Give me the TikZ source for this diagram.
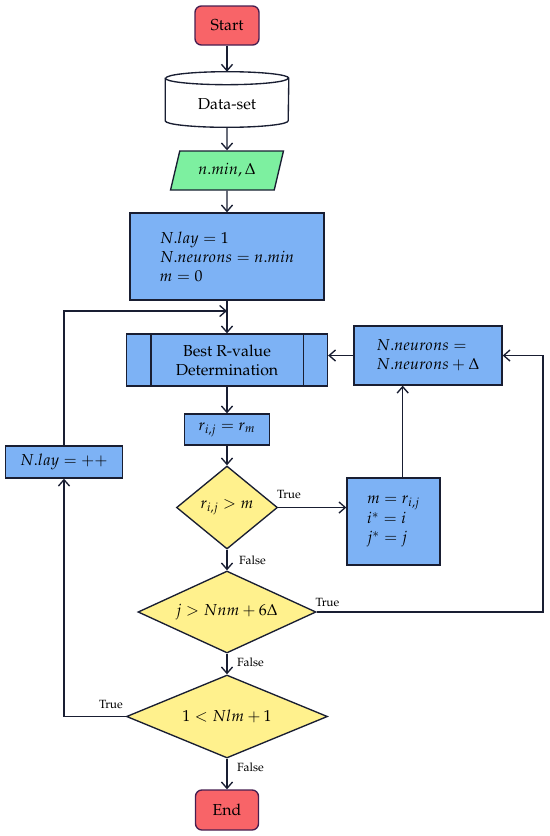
\documentclass[tikz,border=0pt]{standalone}
\usepackage[T1]{fontenc}
\usepackage{mathpazo}
\usetikzlibrary{shapes.geometric,arrows.meta,calc}
\definecolor{cred}{RGB}{248,100,104}
\definecolor{cpur}{RGB}{70,30,80}
\definecolor{cgreen}{RGB}{125,240,160}
\definecolor{cblue}{RGB}{125,178,245}
\definecolor{cyel}{RGB}{255,241,141}
\definecolor{cline}{RGB}{25,30,50}
\newcommand\px{0.63pt}
\begin{document}
\begin{tikzpicture}[x=0.63pt,y=-0.63pt,
  every node/.style={inner sep=1pt},
  term/.style={rectangle, rounded corners=4pt, draw=cpur, fill=cred, line width=0.85pt},
  box/.style={rectangle, draw=cline, fill=cblue, line width=0.85pt, align=left},
  dec/.style={diamond, draw=cline, fill=cyel, line width=0.85pt, inner sep=0pt},
  arr/.style={line width=0.85pt, draw=cline, -{Straight Barb[length=4pt,width=7pt]}},
  ln/.style={line width=0.85pt, draw=cline},
  lab/.style={font=\fontsize{7.5}{9}\selectfont, inner sep=0pt}
]
\useasboundingbox (0,0) rectangle (550,836);

% nodes
\node[term, minimum width=64*\px, minimum height=39*\px] (start) at (227,25.5) {Start};
\node[minimum width=123*\px, minimum height=55*\px, inner sep=0pt] (data) at (227,99.5) {};
\filldraw[ln, fill=white]
  ([yshift=-6.5*\px]data.north west) -- ([yshift=6.5*\px]data.south west)
  arc[start angle=180, end angle=360, x radius=61.5*\px, y radius=6.5*\px]
  -- ([yshift=-6.5*\px]data.north east)
  arc[start angle=0, end angle=180, x radius=61.5*\px, y radius=6.5*\px] -- cycle;
\draw[ln] ([yshift=-6.5*\px]data.north west)
  arc[start angle=180, end angle=360, x radius=61.5*\px, y radius=6.5*\px];
\node (datatext) at (227,104) {Data-set};

\node[trapezium, trapezium left angle=67.7, trapezium right angle=112.3,
  trapezium stretches=true, draw=cline, fill=cgreen, line width=0.85pt,
  minimum width=113*\px, minimum height=39*\px, inner sep=0pt] (inp) at (227,170.5) {$n.min, \Delta$};

\node[box, minimum width=194*\px, minimum height=87*\px] (init) at (227,256.5)
  {$N.lay = 1$\\$N.neurons = n.min$\\$m = 0$};

\node[box, align=center, minimum width=201*\px, minimum height=52*\px] (best) at (227,360)
  {Best R-value\\Determination};
\draw[ln] ([xshift=25*\px]best.north west) -- ([xshift=25*\px]best.south west);
\draw[ln] ([xshift=-25*\px]best.north east) -- ([xshift=-25*\px]best.south east);

\node[box, minimum width=148*\px, minimum height=59*\px] (neur) at (428,355.5)
  {$N.neurons =$\\$N.neurons + \Delta$};

\node[box, minimum width=85*\px, minimum height=31*\px] (rbox) at (227,429.5) {$r_{i,j} = r_m$};

\node[box, minimum width=117*\px, minimum height=32*\px] (lay) at (64,462) {$N.lay = {+}{+}$};

\node[dec, aspect=1.22, minimum width=101*\px, minimum height=83*\px] (d1) at (227,507.5) {$r_{i,j} > m$};

\node[box, minimum width=93*\px, minimum height=87*\px] (mbox) at (393.5,521.5)
  {$m = r_{i,j}$\\[1pt]$i^* = i$\\$j^* = j$};

\node[dec, aspect=2.17, minimum width=178*\px, minimum height=82*\px] (d2) at (227,612) {$j > Nnm + 6\Delta$};

\node[dec, aspect=2.42, minimum width=201*\px, minimum height=83*\px] (d3) at (227,716.5) {$1 < Nlm + 1$};

\node[term, minimum width=63*\px, minimum height=40*\px] (end) at (227,810) {End};

% coordinates
\coordinate (j1) at (227,311);
\coordinate (rc) at (543,357.7);
\coordinate (up) at (402.7,0);

% connectors
\draw[arr] (start) -- (data.north);
\draw[arr] (data.south) -- (inp.north);
\draw[arr] (inp.south) -- (init.north);
\draw[arr] (init.south) -- (best.north);
\draw[arr] (lay.north) |- (j1);
\draw[arr] (best.south) -- (rbox.north);
\draw[arr] (rbox.south) -- (d1.north);
\draw[arr] (d1.east) -- (d1.east -| mbox.west);
\draw[arr] (mbox.north -| up) -- (neur.south -| up);
\draw[arr] (neur.west) -- (neur.west -| best.east);
\draw[arr] (d1.south) -- (d2.north);
\draw[arr] (d2.east) -- (d2.east -| rc) -- (rc |- neur.east) -- (neur.east);
\draw[arr] (d2.south) -- (d3.north);
\draw[arr] (d3.west) -| (lay.south);
\draw[arr] (d3.south) -- (end.north);

% labels
\node[lab] (t1) at (289,494) {True};
\node[lab] (f1) at (252.5,560) {False};
\node[lab] (t2) at (327.5,602.7) {True};
\node[lab] (f2) at (250.5,662) {False};
\node[lab] (t3) at (111,704) {True};
\node[lab] (f3) at (250.5,767) {False};
\end{tikzpicture}
\end{document}
